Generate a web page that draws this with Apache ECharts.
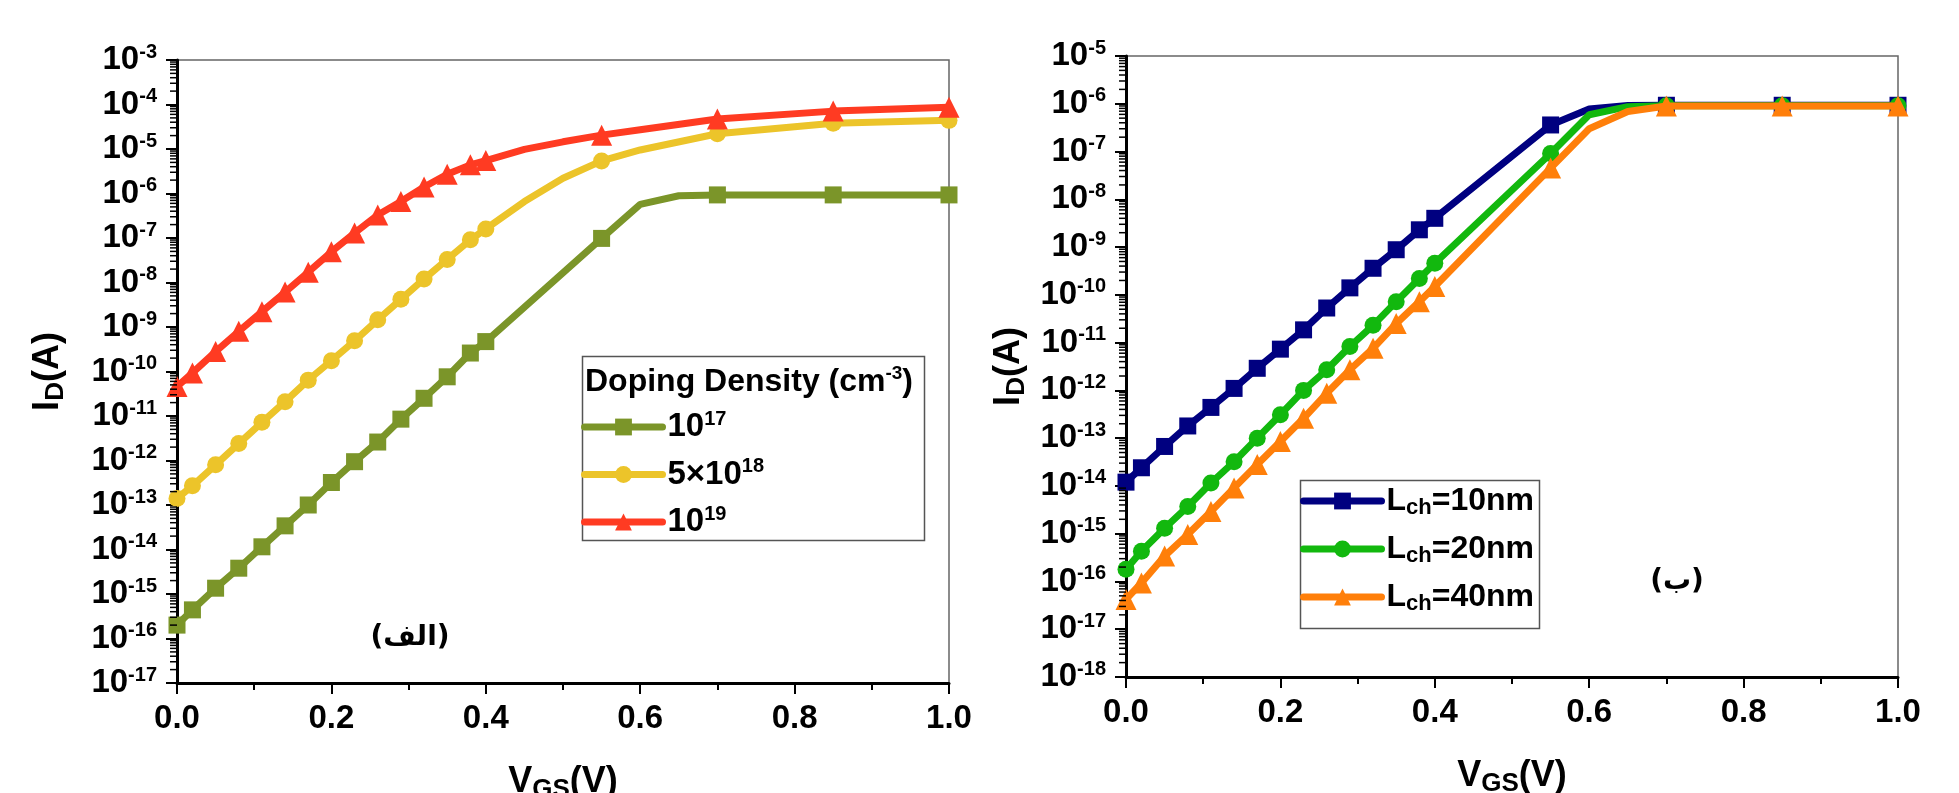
<!DOCTYPE html>
<html><head><meta charset="utf-8">
<script src="https://cdn.jsdelivr.net/npm/echarts@6/dist/echarts.min.js"></script>
<style>html,body{margin:0;padding:0;background:#fff}#c{width:1959px;height:793px}</style>
</head><body><div id="c"></div>
<script>
// ---------- data ----------
const vgs = [0, 0.02, 0.05, 0.08, 0.11, 0.14, 0.17, 0.2, 0.23, 0.26, 0.29, 0.32, 0.35, 0.38, 0.4, 0.45, 0.5, 0.55, 0.6, 0.65, 0.7, 0.85, 1.0];
const markedVgs = [0, 0.02, 0.05, 0.08, 0.11, 0.14, 0.17, 0.2, 0.23, 0.26, 0.29, 0.32, 0.35, 0.38, 0.4, 0.55, 0.7, 0.85, 1.0];

// (a) doping density
const id_1e17 = [2.0e-16, 4.4e-16, 1.35e-15, 3.8e-15, 1.15e-14, 3.4e-14, 1.0e-13, 3.2e-13, 9.4e-13, 2.6e-12, 8.5e-12, 2.5e-11, 7.6e-11, 2.6e-10, 4.7e-10, null, null, 9.8e-8, 5.7e-7, 8.9e-7, 9.3e-7, 9.3e-7, 9.3e-7];
const id_5e18 = [1.4e-13, 2.7e-13, 8.0e-13, 2.4e-12, 7.2e-12, 2.1e-11, 6.4e-11, 1.75e-10, 4.9e-10, 1.45e-9, 4.2e-9, 1.2e-8, 3.3e-8, 9.1e-8, 1.6e-7, 6.6e-7, 2.2e-6, 5.4e-6, 9.5e-6, null, 2.2e-5, 3.8e-5, 4.4e-5];
const id_1e19 = [4.6e-11, 9.3e-11, 2.8e-10, 8.0e-10, 2.2e-9, 6.1e-9, 1.7e-8, 4.9e-8, 1.3e-7, 3.3e-7, 6.6e-7, 1.4e-6, 2.7e-6, 4.4e-6, 5.5e-6, 9.8e-6, 1.45e-5, 2.05e-5, 2.7e-5, null, 4.7e-5, 7.1e-5, 8.7e-5];

// (b) channel length
const id_10nm = [1.2e-14, 2.4e-14, 6.7e-14, 1.8e-13, 4.4e-13, 1.1e-12, 2.9e-12, 7.3e-12, 1.85e-11, 5.3e-11, 1.4e-10, 3.6e-10, 8.8e-10, 2.3e-9, 4.0e-9, null, null, 3.6e-7, 7.8e-7, 9.2e-7, 9.3e-7, 9.3e-7, 9.3e-7];
const id_20nm = [1.8e-16, 4.3e-16, 1.3e-15, 3.7e-15, 1.15e-14, 3.2e-14, 1.0e-13, 3.1e-13, 1.0e-12, 2.7e-12, 8.3e-12, 2.3e-11, 7.2e-11, 2.2e-10, 4.6e-10, null, null, 9.1e-8, 5.9e-7, 8.7e-7, 9.1e-7, 9.1e-7, 9.1e-7];
const id_40nm = [4.2e-17, 9.3e-17, 3.4e-16, 9.6e-16, 2.9e-15, 9.1e-15, 2.8e-14, 8.5e-14, 2.6e-13, 8.7e-13, 2.7e-12, 7.6e-12, 2.5e-11, 7.2e-11, 1.5e-10, null, null, 4.5e-8, 3.0e-7, 6.9e-7, 9.0e-7, 9.0e-7, 9.0e-7];

const legendNamesA = ['10^17', '5x10^18', '10^19'];
const legendLabelsA = ['{b|10}{s|17}', '{b|5×10}{s|18}', '{b|10}{s|19}'];
const legendNamesB = ['Lch=10nm', 'Lch=20nm', 'Lch=40nm'];
const legendLabelsB = ['{b|L}{d|ch}{b|=10nm}', '{b|L}{d|ch}{b|=20nm}', '{b|L}{d|ch}{b|=40nm}'];
const yRangeA = [1e-17, 1e-3];
const yRangeB = [1e-18, 1e-5];
const xRange = [0, 1];
const panelLabels = ['(الف)', '(ب)'];

// ---------- styling ----------
const FONT = '"Liberation Sans", Arial, sans-serif';
const colA = ['#7b9529', '#ecc42a', '#ff3b22'];
const colB = ['#000080', '#12b80e', '#ff7f0a'];
const symbols = ['rect', 'circle', 'triangle'];
const symSizes = [17, 17, 21];

function lineData(ys) {
  const out = [];
  vgs.forEach((x, i) => {
    if (ys[i] == null) return;
    if (markedVgs.includes(x)) out.push({ value: [x, ys[i]] });
    else out.push({ value: [x, ys[i]], symbol: 'none' });
  });
  return out;
}

function mkSeries(name, ys, color, k, gi) {
  return {
    type: 'line', name, xAxisIndex: gi, yAxisIndex: gi,
    data: lineData(ys), symbol: symbols[k], symbolSize: symSizes[k],
    showAllSymbol: true,
    lineStyle: { width: 7, color }, itemStyle: { color },
    emphasis: { disabled: true }, animation: false, z: 3 + k
  };
}

const supRich = {
  b: { fontFamily: FONT, fontSize: 33, fontWeight: 'bold', color: '#000', lineHeight: 36 },
  s: { fontFamily: FONT, fontSize: 20, fontWeight: 'bold', color: '#000', lineHeight: 16, verticalAlign: 'top' }
};
const subRich = {
  b: { fontFamily: FONT, fontSize: 32, fontWeight: 'bold', color: '#000', lineHeight: 36 },
  d: { fontFamily: FONT, fontSize: 22, fontWeight: 'bold', color: '#000', lineHeight: 20, verticalAlign: 'bottom' }
};
const nameRich = {
  b: { fontFamily: FONT, fontSize: 36, fontWeight: 'bold', color: '#000', lineHeight: 42 },
  s: { fontFamily: FONT, fontSize: 26, fontWeight: 'bold', color: '#000', lineHeight: 20, verticalAlign: 'bottom' }
};

function xAxis(gi) {
  return {
    type: 'value', gridIndex: gi, min: xRange[0], max: xRange[1], interval: 0.2,
    name: '{b|V}{s|GS}{b|(V)}', nameLocation: 'middle', nameGap: 78,
    nameTextStyle: { rich: nameRich },
    axisLine: { lineStyle: { color: '#000', width: 3 } },
    axisTick: { length: 11, lineStyle: { color: '#000', width: 2 } },
    minorTick: { show: true, splitNumber: 2, length: 7, lineStyle: { color: '#000', width: 2 } },
    splitLine: { show: false },
    axisLabel: { margin: 19, fontFamily: FONT, fontSize: 33, fontWeight: 'bold', color: '#000',
                 formatter: v => v.toFixed(1) }
  };
}
function yAxis(gi, range, gap) {
  return {
    type: 'log', logBase: 10, gridIndex: gi, min: range[0], max: range[1], interval: 1, splitNumber: 14,
    name: '{b|I}{s|D}{b|(A)}', nameLocation: 'middle', nameGap: gap,
    nameTextStyle: { rich: nameRich },
    axisLine: { lineStyle: { color: '#000', width: 3 } },
    axisTick: { length: 11, lineStyle: { color: '#000', width: 2 } },
    splitLine: { show: false },
    axisLabel: { margin: 20, showMinLabel: true, showMaxLabel: true,
                 formatter: v => '{b|10}{s|' + Math.round(Math.log10(v)) + '}', rich: supRich }
  };
}

const baseGraphic = [
  { type: 'rect', left: 580, top: 354, shape: { width: 342, height: 184 },
    style: { fill: 'none', stroke: '#555', lineWidth: 1.5 }, z: 1 },
  { type: 'text', left: 585, top: 364,
    style: { text: '{b|Doping Density (cm}{s|-3}{b|)}', rich: {
      b: { fontFamily: FONT, fontSize: 32, fontWeight: 'bold', fill: '#000', lineHeight: 36 },
      s: { fontFamily: FONT, fontSize: 19, fontWeight: 'bold', fill: '#000', lineHeight: 16, verticalAlign: 'top' } } } },
  { type: 'rect', left: 1298, top: 478, shape: { width: 239, height: 148 },
    style: { fill: 'none', stroke: '#555', lineWidth: 1.5 }, z: 1 },
  { type: 'text', x: 410, y: 638,
    style: { text: panelLabels[0], font: 'bold 28px "DejaVu Sans", sans-serif', fill: '#000', align: 'center', verticalAlign: 'middle' } },
  { type: 'text', x: 1677, y: 582,
    style: { text: panelLabels[1], font: 'bold 28px "DejaVu Sans", sans-serif', fill: '#000', align: 'center', verticalAlign: 'middle' } }
];

const option = {
  backgroundColor: '#fff',
  animation: false,
  grid: [
    { left: 177, top: 60, width: 772, height: 623, outerBoundsMode: 'none', containLabel: false,
      show: true, borderColor: '#666', borderWidth: 1.5, backgroundColor: 'transparent' },
    { left: 1126, top: 56, width: 772, height: 621, outerBoundsMode: 'none', containLabel: false,
      show: true, borderColor: '#666', borderWidth: 1.5, backgroundColor: 'transparent' }
  ],
  xAxis: [xAxis(0), xAxis(1)],
  yAxis: [yAxis(0, yRangeA, 108), yAxis(1, yRangeB, 96)],
  legend: [
    { data: legendNamesA, orient: 'vertical', left: 581, top: 409, padding: 0,
      itemWidth: 78, itemHeight: 21, itemGap: 13, selectedMode: false,
      lineStyle: { width: 7, cap: 'round' },
      formatter: n => legendLabelsA[legendNamesA.indexOf(n)],
      textStyle: { rich: supRich } },
    { data: legendNamesB, orient: 'vertical', left: 1300, top: 485, padding: 0,
      itemWidth: 78, itemHeight: 21, itemGap: 14, selectedMode: false,
      lineStyle: { width: 7, cap: 'round' },
      formatter: n => legendLabelsB[legendNamesB.indexOf(n)],
      textStyle: { rich: subRich } }
  ],
  graphic: baseGraphic,
  series: [
    mkSeries(legendNamesA[0], id_1e17, colA[0], 0, 0),
    mkSeries(legendNamesA[1], id_5e18, colA[1], 1, 0),
    mkSeries(legendNamesA[2], id_1e19, colA[2], 2, 0),
    mkSeries(legendNamesB[0], id_10nm, colB[0], 0, 1),
    mkSeries(legendNamesB[1], id_20nm, colB[1], 1, 1),
    mkSeries(legendNamesB[2], id_40nm, colB[2], 2, 1)
  ]
};
const chart = echarts.init(document.getElementById('c'), null, { renderer: 'canvas' });
chart.setOption(option);

// log-axis minor ticks (2..9 in each decade), positioned through the axis scale
const minorTickEls = [];
[[0, yRangeA], [1, yRangeB]].forEach(([gi, r]) => {
  const lo = Math.round(Math.log10(r[0])), hi = Math.round(Math.log10(r[1]));
  for (let e = lo; e < hi; e++) {
    for (let m = 2; m <= 9; m++) {
      const p = chart.convertToPixel({ xAxisIndex: gi, yAxisIndex: gi }, [0, m * Math.pow(10, e)]);
      if (!p) continue;
      minorTickEls.push({ type: 'line', silent: true, z: 20,
        shape: { x1: p[0] - 7, y1: p[1], x2: p[0], y2: p[1] },
        style: { stroke: '#000', lineWidth: 1.5 } });
    }
  }
});
chart.setOption({ graphic: baseGraphic.concat(minorTickEls) });
</script></body></html>
